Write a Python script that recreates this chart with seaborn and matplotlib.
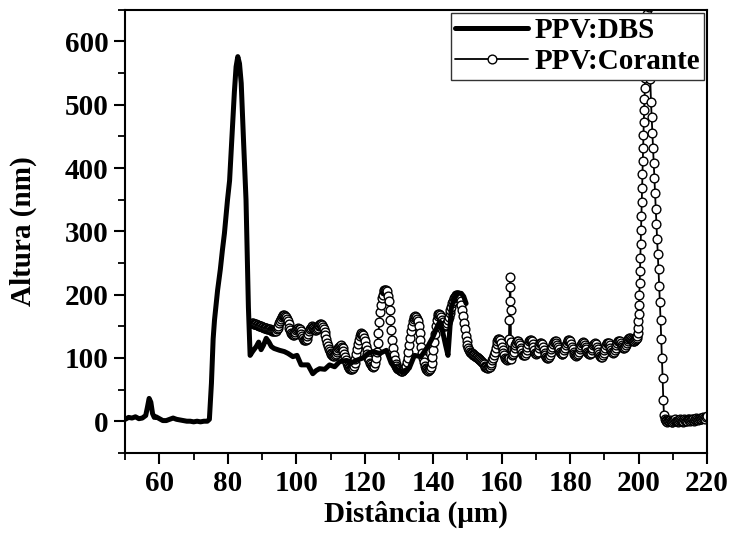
import numpy as np
import matplotlib
matplotlib.use("Agg")
import matplotlib.pyplot as plt
import seaborn as sns
from matplotlib.ticker import MultipleLocator

# PPV:DBS profile (thick line)
dbs_x = [
    50, 51, 52, 53, 54, 55, 56, 56.5, 57, 57.5,
    58, 58.5, 59, 60, 61, 62, 63, 64, 65, 66,
    67, 68, 69, 70, 71, 72, 73, 74, 74.6, 75.2,
    75.7, 76.1, 77.0, 77.8, 78.4, 79.0, 79.9, 80.5, 81.0, 81.9,
    82.4, 82.9, 83.4, 83.9, 84.6, 85.3, 86.0, 86.5, 87.2, 88.3,
    89.0, 89.7, 90.4, 91.2, 92.0, 92.7, 93.5, 95.1, 96.5, 97.6,
    99.0, 100.2, 101.4, 103.4, 104.8, 105.8, 106.8, 108.3, 109.7, 111.2,
    112.6, 114.6, 116.0, 117.5, 119.5, 120.9, 122.4, 124.3, 126.3, 127.7,
    129.2, 131.1, 133.0, 134.5, 136.4, 138.4, 139.9, 141.2, 141.9, 142.8,
    143.6, 144.3, 145.3, 146.3, 147.2, 148.2, 148.9, 149.6]
dbs_y = [
    3, 6, 5, 7, 4, 5, 9, 22, 36, 30,
    12, 6, 7, 4, 1, 1, 3, 5, 3, 2,
    1, 0, 0, -1, 0, -1, 0, 0, 3, 60,
    130, 160, 207, 240, 270, 297, 350, 380, 430, 520,
    560, 576, 565, 534, 440, 350, 180, 104, 110, 118,
    125, 113, 120, 131, 125, 118, 115, 112, 110, 107,
    102, 104, 89, 89, 75, 80, 83, 82, 89, 86,
    94, 96, 92, 96, 100, 107, 110, 107, 112, 92,
    81, 78, 84, 104, 102, 118, 133, 150, 157, 140,
    120, 104, 181, 195, 202, 202, 197, 186]

# PPV:Corante profile (open circles), read in pieces
cor_band1_y = [  # x = 87.0 ... 161.75, step 0.25
    155, 155, 154, 154, 153, 153, 152, 152, 151, 151, 150, 150, 149, 149, 148, 148, 147, 147, 146, 146,
    145, 145, 144, 144, 143, 142, 142, 142, 143, 145, 148, 151, 155, 159, 162, 165, 167, 168, 168, 167,
    165, 162, 158, 153, 148, 144, 140, 138, 136, 136, 138, 141, 144, 146, 147, 146, 145, 142, 138, 134,
    131, 129, 128, 129, 130, 134, 138, 142, 146, 148, 150, 149, 148, 146, 144, 144, 145, 147, 150, 152,
    153, 153, 152, 149, 146, 141, 136, 130, 124, 119, 114, 111, 108, 106, 104, 103, 103, 104, 106, 109,
    112, 115, 118, 119, 120, 118, 116, 111, 106, 101, 96, 92, 88, 86, 84, 83, 82, 83, 84, 88,
    92, 99, 106, 114, 122, 128, 134, 137, 139, 138, 136, 131, 126, 119, 112, 106, 100, 96, 92, 90,
    88, 87, 86, 88, 92, 100, 110, 124, 140, 156, 172, 184, 194, 200, 205, 207, 208, 207, 205, 198,
    190, 176, 160, 144, 128, 115, 104, 96, 90, 87, 84, 83, 82, 81, 80, 80, 80, 81, 82, 84,
    88, 93, 100, 109, 120, 131, 142, 151, 158, 162, 165, 166, 165, 162, 158, 150, 140, 129, 118, 108,
    100, 93, 88, 84, 82, 81, 80, 81, 82, 86, 92, 101, 112, 125, 138, 150, 160, 166, 170, 170,
    168, 164, 160, 156, 152, 150, 150, 152, 155, 160, 165, 171, 176, 181, 186, 190, 194, 196, 198, 199,
    200, 199, 198, 195, 190, 183, 175, 166, 155, 145, 135, 127, 120, 115, 112, 110, 108, 107, 106, 105,
    104, 103, 102, 101, 100, 99, 98, 97, 95, 94, 92, 90, 88, 86, 85, 84, 84, 85, 86, 89,
    92, 96, 100, 105, 110, 116, 122, 127, 130, 130, 128, 124, 118, 113, 108, 104, 100, 98, 96, 98]
cor_spike_x = [162.0, 162.1, 162.2, 162.3, 162.4, 162.5, 162.6, 162.7, 162.8]
cor_spike_y = [100, 130, 160, 190, 212, 228, 175, 125, 98]
cor_band2_y = [  # x = 163.0 ... 199.25, step 0.25
    104, 106, 110, 115, 120, 124, 126, 126, 124, 120, 116, 112, 108, 105, 104, 105, 108, 113, 118, 122,
    126, 128, 128, 126, 122, 117, 112, 108, 106, 107, 110, 115, 120, 123, 124, 122, 118, 113, 108, 104,
    102, 100, 100, 101, 104, 109, 114, 118, 122, 125, 126, 126, 124, 121, 118, 114, 110, 107, 106, 106,
    108, 112, 116, 120, 124, 127, 128, 128, 126, 122, 118, 114, 110, 106, 104, 103, 104, 106, 110, 114,
    118, 121, 124, 125, 124, 121, 118, 114, 110, 107, 106, 106, 108, 112, 116, 120, 122, 123, 122, 118,
    114, 109, 106, 103, 102, 102, 104, 108, 112, 116, 120, 123, 124, 123, 120, 116, 112, 109, 108, 109,
    112, 116, 120, 124, 126, 127, 126, 123, 120, 117, 116, 116, 118, 121, 124, 127, 130, 132, 132, 130,
    128, 126, 126, 127, 128, 130]
cor_rise_y = [  # x = 199.5 ... 202.9, step 0.1
    132, 135, 140, 148, 158, 170, 184, 200, 218, 238,
    258, 280, 302, 324, 346, 368, 390, 411, 432, 452,
    472, 491, 509, 526, 543, 560, 577, 594, 611, 628,
    644, 658, 668, 674, 672]
cor_fall_y = [  # x = 203.0 ... 207.4, step 0.2
    655, 600, 540, 505, 480, 456, 432, 408, 384, 360,
    336, 312, 288, 264, 240, 214, 188, 160, 130, 100,
    68, 34, 10]
cor_tail_y = [  # x = 207.6 ... 219.85, step 0.25
    4, 2, 0, -1, 0, 1, 2, 1, -1, -2,
    0, 2, 3, 1, 0, -1, 0, 2, 3, 2,
    0, -1, 1, 3, 2, 0, 1, 3, 4, 2,
    1, 2, 4, 3, 1, 2, 4, 5, 3, 2,
    4, 5, 4, 3, 5, 6, 5, 4, 6, 8]

cor_x = np.concatenate([
    87.0 + 0.25 * np.arange(len(cor_band1_y)),
    cor_spike_x,
    163.0 + 0.25 * np.arange(len(cor_band2_y)),
    199.5 + 0.1 * np.arange(len(cor_rise_y)),
    203.0 + 0.2 * np.arange(len(cor_fall_y)),
    207.6 + 0.25 * np.arange(len(cor_tail_y)),
])
cor_y = np.concatenate([cor_band1_y, cor_spike_y, cor_band2_y,
                        cor_rise_y, cor_fall_y, cor_tail_y])

sns.set_style("ticks")
plt.rcParams['font.family'] = ['Liberation Serif', 'DejaVu Serif']
plt.rcParams['font.weight'] = 'bold'
plt.rcParams['axes.labelweight'] = 'bold'
plt.rcParams['text.color'] = 'black'
plt.rcParams['axes.labelcolor'] = 'black'
plt.rcParams['xtick.color'] = 'black'
plt.rcParams['ytick.color'] = 'black'

fig = plt.figure(figsize=(7.32, 5.43), dpi=100)
ax = fig.add_axes([0.171, 0.166, 0.795, 0.816])

sns.lineplot(x=cor_x, y=cor_y, ax=ax, sort=False, estimator=None,
             color='black', linewidth=1.3, marker='o', markersize=6.3,
             markerfacecolor='white', markeredgecolor='black',
             markeredgewidth=1.0, label='PPV:Corante')
sns.lineplot(x=dbs_x, y=dbs_y, ax=ax, sort=False, estimator=None,
             color='black', linewidth=3.6, label='PPV:DBS')

ax.set_xlim(50, 220)
ax.set_ylim(-50, 650)
ax.xaxis.set_major_locator(MultipleLocator(20))
ax.xaxis.set_minor_locator(MultipleLocator(10))
ax.yaxis.set_major_locator(MultipleLocator(100))
ax.yaxis.set_minor_locator(MultipleLocator(50))
ax.set_xticks(range(60, 221, 20))

for s in ax.spines.values():
    s.set_linewidth(1.5)
    s.set_color('black')
ax.tick_params(which='major', direction='out', length=8, width=1.5,
               labelsize=21, pad=4, colors='black')
ax.tick_params(which='minor', direction='out', length=5, width=1.3,
               colors='black')
ax.tick_params(top=False, right=False, which='both')

ax.set_xlabel('Distância (μm)', fontsize=21, labelpad=3, color='black')
ax.set_ylabel('Altura (nm)', fontsize=21, labelpad=20, color='black')

h, l = ax.get_legend_handles_labels()
order = [l.index('PPV:DBS'), l.index('PPV:Corante')]
leg = ax.legend([h[i] for i in order], [l[i] for i in order],
                loc='upper right', frameon=True, fancybox=False,
                framealpha=1, edgecolor='#333333', borderaxespad=0.1,
                borderpad=0.15, handlelength=2.5, handletextpad=0.2,
                labelspacing=0.15, prop={'size': 21, 'weight': 'bold'})
leg.get_frame().set_linewidth(1.0)
for t in leg.get_texts():
    t.set_color('black')

fig.savefig('out.png', dpi=100)
